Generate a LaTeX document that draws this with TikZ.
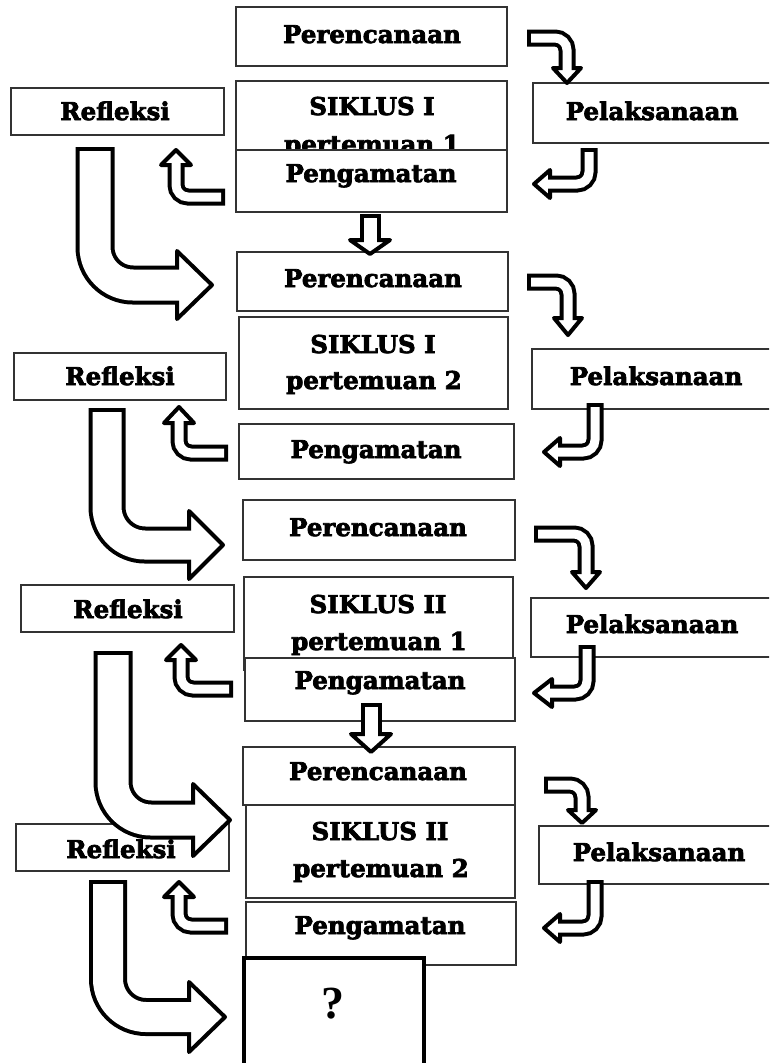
\documentclass[tikz,border=0pt]{standalone}
\usepackage{fontspec}
\setmainfont{DejaVu Serif}[BoldFeatures={FakeBold=3}]
\newfontfamily\qfont{Liberation Serif}
\usetikzlibrary{calc}
\tikzset{
  box/.style={draw=black!80, line width=1.6pt, fill=white, inner sep=0pt, outer sep=0pt},
  qbox/.style={draw=black, line width=4.5pt, fill=white, inner sep=0pt, outer sep=0pt},
  lbl/.style={font=\bfseries\fontsize{24.5}{28}\selectfont, anchor=base, inner sep=0pt},
  qlbl/.style={font=\qfont\bfseries\fontsize{46}{50}\selectfont, anchor=base, inner sep=0pt},
}
% box: name, x1, y1, x2, y2
\newcommand\bx[6][box]{\node[#1, minimum width={(#5-#3)*1pt}, minimum height={(#6-#4)*1pt}] (#2) at ({(#3+#5)/2},{(#4+#6)/2}) {};}
% block arrow: band width, head half-width, corner radius, tail, corner, head base, tip
\newcommand\barr[7]{%
  \draw[line width={#1*1pt+4pt}, black, rounded corners=#3pt] (#4) -- (#5) -- (#6);
  \filldraw[line width=4pt, fill=white, draw=black, line join=round]
    ($(#6)!#2pt!90:(#7)$) -- (#7) -- ($(#6)!#2pt!-90:(#7)$) -- cycle;
  \draw[line width={#1*1pt-4pt}, white, rounded corners=#3pt]
    ($(#4)!4pt!(#5)$) -- (#5) -- ($(#6)!3pt!(#7)$);
}
\begin{document}
\begin{tikzpicture}[x=1pt, y=-1pt]
\useasboundingbox (0,0) rectangle (769,1063);
\clip (0,0) rectangle (769,1063);
% ---------- cycle 1 ----------
\bx{p1}{236}{7}{507}{66}
\node[lbl] (p1t) at (372,43) {Perencanaan};
\bx{s1}{236}{81}{507}{160}
\node[lbl] (s1a) at (372,115) {SIKLUS I};
\node[lbl] (s1b) at (372,153) {pertemuan 1};
\bx{pel1}{533}{83}{775}{143}
\node[lbl] (pel1t) at (652,120) {Pelaksanaan};
\bx{ref1}{11}{88}{224}{135}
\node[lbl] (ref1t) at (115,120) {Refleksi};
\bx{peng1}{236}{150}{507}{212}
\node[lbl] (peng1t) at (371,182) {Pengamatan};
% ---------- cycle 2 ----------
\bx{p2}{237}{252}{508}{311}
\node[lbl] (p2t) at (373,287) {Perencanaan};
\bx{s2}{239}{317}{508}{409}
\node[lbl] (s2a) at (373,353) {SIKLUS I};
\node[lbl] (s2b) at (374,389) {pertemuan 2};
\bx{pel2}{532}{349}{775}{409}
\node[lbl] (pel2t) at (656,385) {Pelaksanaan};
\bx{ref2}{14}{353}{226}{400}
\node[lbl] (ref2t) at (120,385) {Refleksi};
\bx{peng2}{239}{424}{514}{479}
\node[lbl] (peng2t) at (376,458) {Pengamatan};
% ---------- cycle 3 ----------
\bx{p3}{243}{500}{515}{560}
\node[lbl] (p3t) at (378,536) {Perencanaan};
\bx{s3}{244}{577}{513}{670}
\node[lbl] (s3a) at (378,613) {SIKLUS II};
\node[lbl] (s3b) at (379,650) {pertemuan 1};
\bx{pel3}{531}{598}{775}{657}
\node[lbl] (pel3t) at (652,633) {Pelaksanaan};
\bx{ref3}{21}{585}{234}{632}
\node[lbl] (ref3t) at (128,618) {Refleksi};
\bx{peng3}{245}{658}{515}{721}
\node[lbl] (peng3t) at (380,689) {Pengamatan};
% ---------- cycle 4 ----------
\bx{p4}{243}{747}{515}{805}
\node[lbl] (p4t) at (378,780) {Perencanaan};
\bx{s4}{246}{805}{515}{898}
\node[lbl] (s4a) at (380,840) {SIKLUS II};
\node[lbl] (s4b) at (381,877) {pertemuan 2};
\bx{pel4}{539}{826}{775}{884}
\node[lbl] (pel4t) at (659,861) {Pelaksanaan};
\bx{ref4}{16}{824}{229}{871}
\node[lbl] (ref4t) at (121,858) {Refleksi};
\bx{peng4}{246}{902}{516}{965}
\node[lbl] (peng4t) at (380,934) {Pengamatan};
\bx[qbox]{q}{244}{958}{424}{1080}
\node[qlbl] (qt) at (333,1018) {?};
% ---------- arrows ----------
% Perencanaan -> Pelaksanaan
\barr{13}{14}{12}{527,38}{567,38}{567,68}{567,83}
\barr{13}{14}{12}{527,282}{568,282}{568,318}{568,335}
\barr{13}{14}{12}{534,534}{586,534}{586,572}{586,588}
\barr{13}{14}{12}{544,785}{582,785}{582,810}{582,823}
% Pelaksanaan -> Pengamatan
\barr{13}{14}{12}{589,148}{589,184}{550,184}{534,184}
\barr{13}{14}{12}{595,403}{595,452}{560,452}{544,452}
\barr{13}{14}{12}{587,645}{587,693}{552,693}{534,693}
\barr{13}{14}{12}{595,880}{595,928}{560,928}{544,928}
% Pengamatan -> Refleksi
\barr{13}{15}{12}{225,197}{176,197}{176,165}{176,150}
\barr{13}{15}{12}{228,453}{179,453}{179,423}{179,407}
\barr{13}{15}{12}{233,689}{181,689}{181,660}{181,645}
\barr{13}{15}{12}{228,926}{179,926}{179,897}{179,882}
% Pengamatan -> next Perencanaan (straight)
\barr{17}{20}{1}{370,214}{370,227}{370,240}{370,254}
\barr{17}{20}{1}{371,703}{371,718}{371,734}{371,752}
% Refleksi -> next cycle (big)
\barr{35}{34}{38}{95,147}{95,285}{177,285}{212,285}
\barr{33}{34}{38}{107,408}{107,545}{189,545}{223,545}
\barr{35}{36}{38}{113,651}{113,820}{193,820}{230,820}
\barr{34}{35}{38}{108,880}{108,1017}{189,1017}{225,1017}
\end{tikzpicture}
\end{document}
